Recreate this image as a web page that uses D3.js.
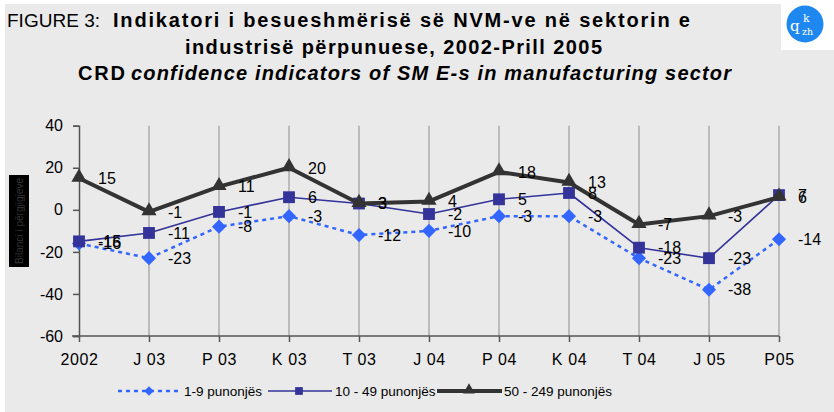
<!DOCTYPE html>
<html>
<head>
<meta charset="utf-8">
<script src="https://cdn.jsdelivr.net/npm/d3@7/dist/d3.min.js"></script>
<style>
  html, body { margin: 0; padding: 0; background: #ffffff; }
  svg { display: block; font-family: "Liberation Sans", Arial, sans-serif; }
</style>
</head>
<body>
<svg id="chart" width="834" height="412"></svg>
<script>
// ---- data ----
const categories = ["2002", "J 03", "P 03", "K 03", "T 03", "J 04", "P 04", "K 04", "T 04", "J 05", "P05"];
const seriesNames = ["1-9 punonjës", "10 - 49 punonjës", "50 - 249 punonjës"];
const small  = [-16, -23, -8, -3, -12, -10, -3, -3, -23, -38, -14];
const medium = [-15, -11, -1, 6, 3, -2, 5, 8, -18, -23, 7];
const large  = [15, -1, 11, 20, 3, 4, 18, 13, -7, -3, 6];
const yTicks = [40, 20, 0, -20, -40, -60];

const svg = d3.select("#chart");
const W = 834, H = 412;

// background
svg.append("rect").attr("x", 5).attr("y", 4).attr("width", W - 5).attr("height", H - 4).attr("fill", "#EAEAEA");
svg.append("rect").attr("x", 781).attr("y", 0).attr("width", 53).attr("height", 50).attr("fill", "#ffffff");

// logo
const logo = svg.append("g");
logo.append("circle").attr("cx", 805).attr("cy", 24).attr("r", 18.5).attr("fill", "#1E88F0");
logo.append("text").attr("x", 790).attr("y", 31).attr("font-family", "DejaVu Serif, serif").attr("font-size", 15).attr("fill", "#fff").text("q");
logo.append("text").attr("x", 803).attr("y", 22).attr("font-family", "DejaVu Serif, serif").attr("font-size", 11).attr("fill", "#fff").text("k");
logo.append("text").attr("x", 802).attr("y", 35).attr("font-family", "DejaVu Serif, serif").attr("font-size", 9.5).attr("fill", "#fff").text("zh");

// title
svg.append("text").attr("x", 7).attr("y", 27).attr("font-size", 19)
  .attr("textLength", 93).attr("lengthAdjust", "spacingAndGlyphs").attr("fill", "#000").text("FIGURE 3:");
svg.append("text").attr("x", 113).attr("y", 27).attr("font-size", 20).attr("font-weight", "bold")
  .attr("textLength", 577).attr("lengthAdjust", "spacing").attr("fill", "#000")
  .text("Indikatori i besueshmërisë së NVM-ve në sektorin e");
svg.append("text").attr("x", 185).attr("y", 54).attr("font-size", 20).attr("font-weight", "bold")
  .attr("textLength", 417).attr("lengthAdjust", "spacing").attr("fill", "#000")
  .text("industrisë përpunuese, 2002-Prill 2005");
svg.append("text").attr("x", 78).attr("y", 80).attr("font-size", 20).attr("font-weight", "bold")
  .attr("textLength", 47).attr("lengthAdjust", "spacing").attr("fill", "#000").text("CRD");
svg.append("text").attr("x", 131).attr("y", 80).attr("font-size", 20).attr("font-weight", "bold").attr("font-style", "italic")
  .attr("textLength", 600).attr("lengthAdjust", "spacing").attr("fill", "#000")
  .text("confidence indicators of SM E-s in manufacturing sector");

// y-axis title box
svg.append("rect").attr("x", 9).attr("y", 175).attr("width", 20).attr("height", 92).attr("fill", "#000");
svg.append("text").attr("transform", "translate(23,221) rotate(-90)").attr("text-anchor", "middle")
  .attr("font-size", 11).attr("fill", "#333").attr("textLength", 86).attr("lengthAdjust", "spacingAndGlyphs")
  .text("Bilanci i përgjigjeve");

// scales
const x = d3.scalePoint().domain(categories).range([79, 779]);
const y = d3.scaleLinear().domain([-60, 40]).range([336, 125.7]);

// vertical gridlines
svg.append("g").selectAll("line").data(categories.slice(1)).join("line")
  .attr("x1", d => x(d)).attr("x2", d => x(d))
  .attr("y1", y(40)).attr("y2", y(-60))
  .attr("stroke", "#ABABAB").attr("stroke-width", 1.5);

// y axis
const yAxis = svg.append("g").attr("transform", "translate(79,0)")
  .call(d3.axisLeft(y).tickValues(yTicks).tickSize(6).tickPadding(10).tickFormat(d => String(d)));
yAxis.select(".domain").attr("stroke", "#555").attr("stroke-width", 1.5);
yAxis.selectAll(".tick line").attr("stroke", "#555").attr("stroke-width", 1.5);
yAxis.selectAll(".tick text").attr("font-size", 16).attr("fill", "#000")
  .attr("font-family", "Liberation Sans, Arial, sans-serif").attr("x", -16);

// x axis
const xAxis = svg.append("g").attr("transform", `translate(0,${y(-60)})`)
  .call(d3.axisBottom(x).tickSize(6).tickSizeOuter(0).tickPadding(12));
xAxis.select(".domain").attr("stroke", "#555").attr("stroke-width", 1.5).attr("d", `M72,0H779`);
xAxis.selectAll(".tick line").attr("stroke", "#555").attr("stroke-width", 1.5);
xAxis.selectAll(".tick text").attr("font-size", 16).attr("fill", "#000")
  .attr("font-family", "Liberation Sans, Arial, sans-serif").attr("letter-spacing", 0.6);

// series
const series = [
  { name: seriesNames[0], values: small,  color: "#3366FF", width: 2.5, dash: "4,4", shape: d3.symbolDiamond, size: 100 },
  { name: seriesNames[1], values: medium, color: "#333399", width: 1.6, dash: null,  shape: d3.symbolSquare,  size: 140 },
  { name: seriesNames[2], values: large,  color: "#333333", width: 4,   dash: null,  shape: d3.symbolTriangle, size: 100 }
];

const line = d3.line().x((d, i) => x(categories[i])).y(d => y(d));

series.forEach(s => {
  const g = svg.append("g");
  g.append("path").datum(s.values).attr("d", line).attr("fill", "none")
    .attr("stroke", s.color).attr("stroke-width", s.width)
    .attr("stroke-dasharray", s.dash).attr("stroke-linejoin", "round");
  const sym = d3.symbol().type(s.shape).size(s.size);
  g.selectAll("path.m").data(s.values).join("path").attr("class", "m")
    .attr("d", s.shape === d3.symbolDiamond ? d3.symbol().type(d3.symbolSquare).size(s.size) : sym)
    .attr("transform", (d, i) => {
      const tx = x(categories[i]), ty = y(d);
      if (s.shape === d3.symbolDiamond) return `translate(${tx},${ty}) rotate(45)`;
      if (s.shape === d3.symbolTriangle) return `translate(${tx},${ty - 1})`;
      return `translate(${tx},${ty})`;
    })
    .attr("fill", s.color);
});

// data labels
series.forEach(s => {
  svg.append("g").selectAll("text").data(s.values).join("text")
    .attr("x", (d, i) => x(categories[i]) + 19)
    .attr("y", d => y(d))
    .attr("dy", "0.36em")
    .attr("font-size", 16)
    .attr("fill", "#000")
    .text(d => String(d));
});

// legend
const legendItems = [
  { s: series[0], x1: 118, x2: 180, mx: 149, tx: 184 },
  { s: series[1], x1: 268, x2: 332, mx: 299, tx: 335 },
  { s: series[2], x1: 437, x2: 502, mx: 469, tx: 504 }
];
const ly = 391;
legendItems.forEach(it => {
  const g = svg.append("g");
  g.append("line").attr("x1", it.x1).attr("x2", it.x2).attr("y1", ly).attr("y2", ly)
    .attr("stroke", it.s.color).attr("stroke-width", it.s.width).attr("stroke-dasharray", it.s.dash);
  let shape, tr;
  if (it.s.shape === d3.symbolDiamond) { shape = d3.symbol().type(d3.symbolSquare).size(45); tr = `translate(${it.mx},${ly}) rotate(45)`; }
  else if (it.s.shape === d3.symbolSquare) { shape = d3.symbol().type(d3.symbolSquare).size(60); tr = `translate(${it.mx},${ly})`; }
  else { shape = d3.symbol().type(d3.symbolTriangle).size(60); tr = `translate(${it.mx},${ly - 1})`; }
  g.append("path").attr("d", shape).attr("transform", tr).attr("fill", it.s.color);
  g.append("text").attr("x", it.tx).attr("y", ly).attr("dy", "0.35em").attr("font-size", 13.5)
    .attr("fill", "#000").text(it.s.name);
});
</script>
</body>
</html>
